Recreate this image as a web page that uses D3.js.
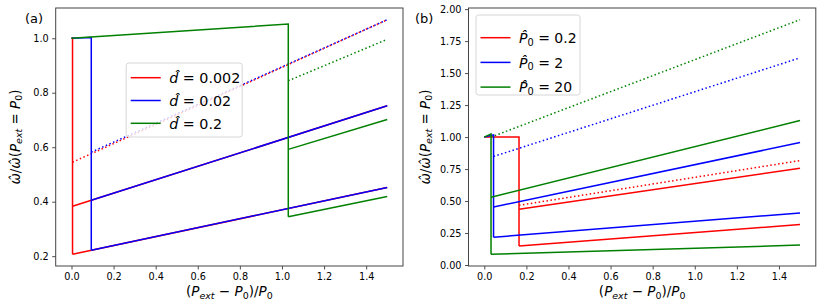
<!DOCTYPE html>
<html>
<head>
<meta charset="utf-8">
<script src="https://cdn.jsdelivr.net/npm/d3@7"></script>
<style>
  body { margin: 0; background: #fff; }
  text { font-family: "DejaVu Sans", sans-serif; fill: #000; }
</style>
</head>
<body>
<svg id="chart" width="831" height="304"></svg>
<script>
const xEnd = 1.5;
const colors = ["#ff0000", "#0000ff", "#008000"];
const xTicks = [0, 0.2, 0.4, 0.6, 0.8, 1.0, 1.2, 1.4];

// panel (a): d-hat series
const dLabels = ["0.002", "0.02", "0.2"];
const jumpXA = [0.005, 0.094, 1.03];
const jumpTopA = [1.0, 1.003, 1.052];
const upperA = [[0.383, 0.752], [0.405, 0.752], [0.592, 0.702]];
const lowerA = [[0.207, 0.452], [0.222, 0.452], [0.345, 0.419]];
const dottedA = [[0.545, 1.068], [0.582, 1.068], [0.844, 0.996]];
const yTicksA = [0.2, 0.4, 0.6, 0.8, 1.0];

// panel (b): P0-hat series
const pLabels = ["0.2", "2", "20"];
const jumpXB = [0.165, 0.044, 0.032];
const jumpTopB = [1.0, 1.017, 1.025];
const upperB = [[0.436, 0.756], [0.454, 0.957], [0.530, 1.129]];
const lowerB = [[0.149, 0.316], [0.217, 0.407], [0.084, 0.156]];
const dottedB = [[0.467, 0.816], [0.848, 1.619], [1.0, 1.917]];
const yTicksB = [0, 0.25, 0.5, 0.75, 1.0, 1.25, 1.5, 1.75, 2.0];

function buildSeries(jx, top, up, lo, dot) {
  return jx.map((x, i) => ({
    main: [[0, 1.0], [x, top[i]], [x, lo[i][0]]],
    upper: [[x, up[i][0]], [xEnd, up[i][1]]],
    lower: [[x, lo[i][0]], [xEnd, lo[i][1]]],
    dotted: [[x, dot[i][0]], [xEnd, dot[i][1]]]
  }));
}

function padded(ext) {
  const m = (ext[1] - ext[0]) * 0.05;
  return [ext[0] - m, ext[1] + m];
}

// write a small piece of math-like text made of tspans
function mathText(t, parts, size) {
  let shift = 0;
  parts.forEach(p => {
    const ts = t.append("tspan").text(p.t);
    if (p.it) ts.attr("font-style", "italic");
    const want = p.sub ? size * 0.2 : 0;
    if (want !== shift) { ts.attr("dy", want - shift); shift = want; }
    if (p.sub) ts.attr("font-size", size * 0.7);
  });
}

const svg = d3.select("#chart");

function panel(cfg) {
  const g = svg.append("g").attr("transform", `translate(${cfg.left},${cfg.top})`);
  const all = cfg.series.flatMap(s => [...s.main, ...s.upper, ...s.lower, ...s.dotted]);
  const x = d3.scaleLinear().domain(padded(d3.extent(all, d => d[0]))).range([0, cfg.w]);
  const y = d3.scaleLinear().domain(padded(d3.extent(all, d => d[1]))).range([cfg.h, 0]);
  const line = d3.line().x(d => x(d[0])).y(d => y(d[1]));

  const gx = g.append("g").attr("transform", `translate(0,${cfg.h})`)
    .call(d3.axisBottom(x).tickValues(xTicks).tickFormat(d3.format(".1f")).tickSize(3.5).tickPadding(3.5));
  const gy = g.append("g")
    .call(d3.axisLeft(y).tickValues(cfg.yTicks).tickFormat(d3.format(cfg.yFmt)).tickSize(3.5).tickPadding(3.5));
  [gx, gy].forEach(a => {
    a.select(".domain").remove();
    a.selectAll(".tick line").attr("stroke", "#222").attr("stroke-width", 0.8);
    a.selectAll(".tick text").attr("font-size", 9.7).attr("font-family", "DejaVu Sans").attr("fill", "#222");
  });

  cfg.series.forEach((s, i) => {
    ["main", "upper", "lower"].forEach(k => {
      g.append("path").datum(s[k]).attr("d", line)
        .attr("fill", "none").attr("stroke", colors[i]).attr("stroke-width", 1.5);
    });
    g.append("path").datum(s.dotted).attr("d", line)
      .attr("fill", "none").attr("stroke", colors[i]).attr("stroke-width", 1.5)
      .attr("stroke-dasharray", "1.5,2.475");
  });

  g.append("rect").attr("width", cfg.w).attr("height", cfg.h)
    .attr("fill", "none").attr("stroke", "#444").attr("stroke-width", 1);

  // legend
  const lg = g.append("g").attr("transform", `translate(${cfg.leg.x},${cfg.leg.y})`);
  lg.append("rect").attr("width", cfg.leg.w).attr("height", cfg.leg.h).attr("rx", 2.5)
    .attr("fill", "#fff").attr("fill-opacity", 0.8).attr("stroke", "#ccc").attr("stroke-width", 0.8);
  cfg.labels.forEach((lab, i) => {
    const yy = cfg.leg.row0 + i * cfg.leg.step;
    lg.append("line").attr("x1", 4.5).attr("x2", 34.5).attr("y1", yy).attr("y2", yy)
      .attr("stroke", colors[i]).attr("stroke-width", 1.5);
    const t = lg.append("text").attr("x", 43).attr("y", yy + 5.2).attr("font-size", cfg.leg.fs);
    mathText(t, cfg.legParts(lab), cfg.leg.fs);
  });

  // axis labels
  const xl = g.append("text").attr("x", cfg.w / 2).attr("y", 288).attr("text-anchor", "middle").attr("font-size", 13.5);
  mathText(xl, [{t: "("}, {t: "P", it: true}, {t: "ext", it: true, sub: true}, {t: " \u2212 "},
    {t: "P", it: true}, {t: "0", sub: true}, {t: ")/"}, {t: "P", it: true}, {t: "0", sub: true}], 13.5);
  const yl = g.append("text").attr("transform", `translate(${cfg.ylx},${cfg.h / 2}) rotate(-90)`)
    .attr("text-anchor", "middle").attr("font-size", 13.5);
  mathText(yl, [{t: "\u03c9\u0302", it: true}, {t: "/"}, {t: "\u03c9\u0302", it: true}, {t: "("},
    {t: "P", it: true}, {t: "ext", it: true, sub: true}, {t: " = "}, {t: "P", it: true}, {t: "0", sub: true}, {t: ")"}], 13.5);

  svg.append("text").attr("x", cfg.tagX).attr("y", 23).attr("font-size", 13).text(cfg.tag);
}

panel({
  left: 55.7, top: 8, w: 347.3, h: 258,
  series: buildSeries(jumpXA, jumpTopA, upperA, lowerA, dottedA),
  yTicks: yTicksA, yFmt: ".1f",
  labels: dLabels,
  legParts: lab => [{t: "d\u0302", it: true}, {t: " = " + lab}],
  leg: {x: 70.5, y: 55, w: 116, h: 74, row0: 14.7, step: 22.8, fs: 14.3},
  ylx: -36, tag: "(a)", tagX: 25
});

panel({
  left: 468.5, top: 8, w: 347.3, h: 258,
  series: buildSeries(jumpXB, jumpTopB, upperB, lowerB, dottedB),
  yTicks: yTicksB, yFmt: ".2f",
  labels: pLabels,
  legParts: lab => [{t: "P\u0302", it: true}, {t: "0", sub: true}, {t: " = " + lab}],
  leg: {x: 7.5, y: 7, w: 104, h: 80, row0: 22.7, step: 24.7, fs: 14},
  ylx: -39, tag: "(b)", tagX: 415
});
</script>
</body>
</html>
